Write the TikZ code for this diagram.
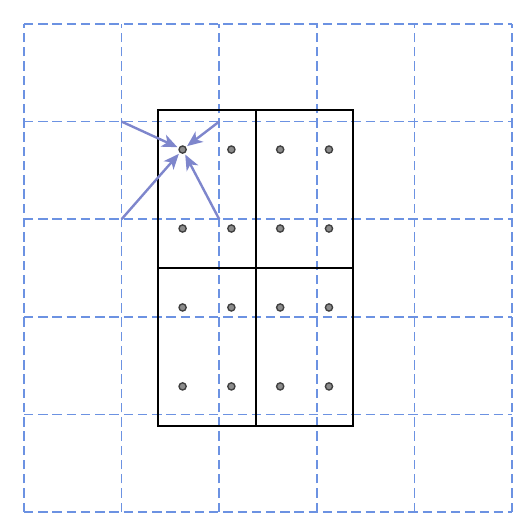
\documentclass[tikz,border=0pt]{standalone}
\usepackage{tikz}
\usetikzlibrary{arrows.meta,calc}
\definecolor{gridblue}{RGB}{108,146,226}
\definecolor{arrowblue}{RGB}{126,134,204}
\tikzset{
  gridline/.style={gridblue,line width=1pt,dash pattern=on 5.5pt off 2.8pt},
  cellbox/.style={black,line width=1.2pt},
  sample/.style={circle,draw=black!75,fill=black!45,line width=0.8pt,inner sep=0pt,minimum size=4.2pt},
  pull/.style={arrowblue,line width=1.4pt,shorten >=0.8pt,-{Stealth[length=9pt,width=7.5pt,inset=2.5pt]}}
}
\begin{document}
\begin{tikzpicture}[x=2cm,y=2cm]
                \useasboundingbox (-0.246,-0.195) rectangle (5.195,5.246);
                \foreach \x in {0,1,2,3,4,5}
                    \draw[gridline] (\x,0) -- (\x,5);
                \foreach \y in {0,1,2,3,4,5}
                    \draw[gridline] (0,\y) -- (5,\y);
                \draw[cellbox] (1.375,0.882) rectangle (3.375,4.118);
                \draw[cellbox] (2.375,0.882) -- (2.375,4.118);
                \draw[cellbox] (1.375,2.5) -- (3.375,2.5);
                \foreach \x/\i in {1.625/1,2.125/2,2.625/3,3.125/4}
                    \foreach \y/\j in {3.7135/1,2.9045/2,2.0955/3,1.2865/4}
                        \node[sample] (s\i\j) at (\x,\y) {};
                \coordinate (p1) at (1,4);
                \coordinate (p2) at (2,4);
                \coordinate (p3) at (1,3);
                \coordinate (p4) at (2,3);
                \foreach \p in {p1,p2,p3,p4}
                    \draw[pull] (\p) -- (s11);
\end{tikzpicture}
\end{document}
